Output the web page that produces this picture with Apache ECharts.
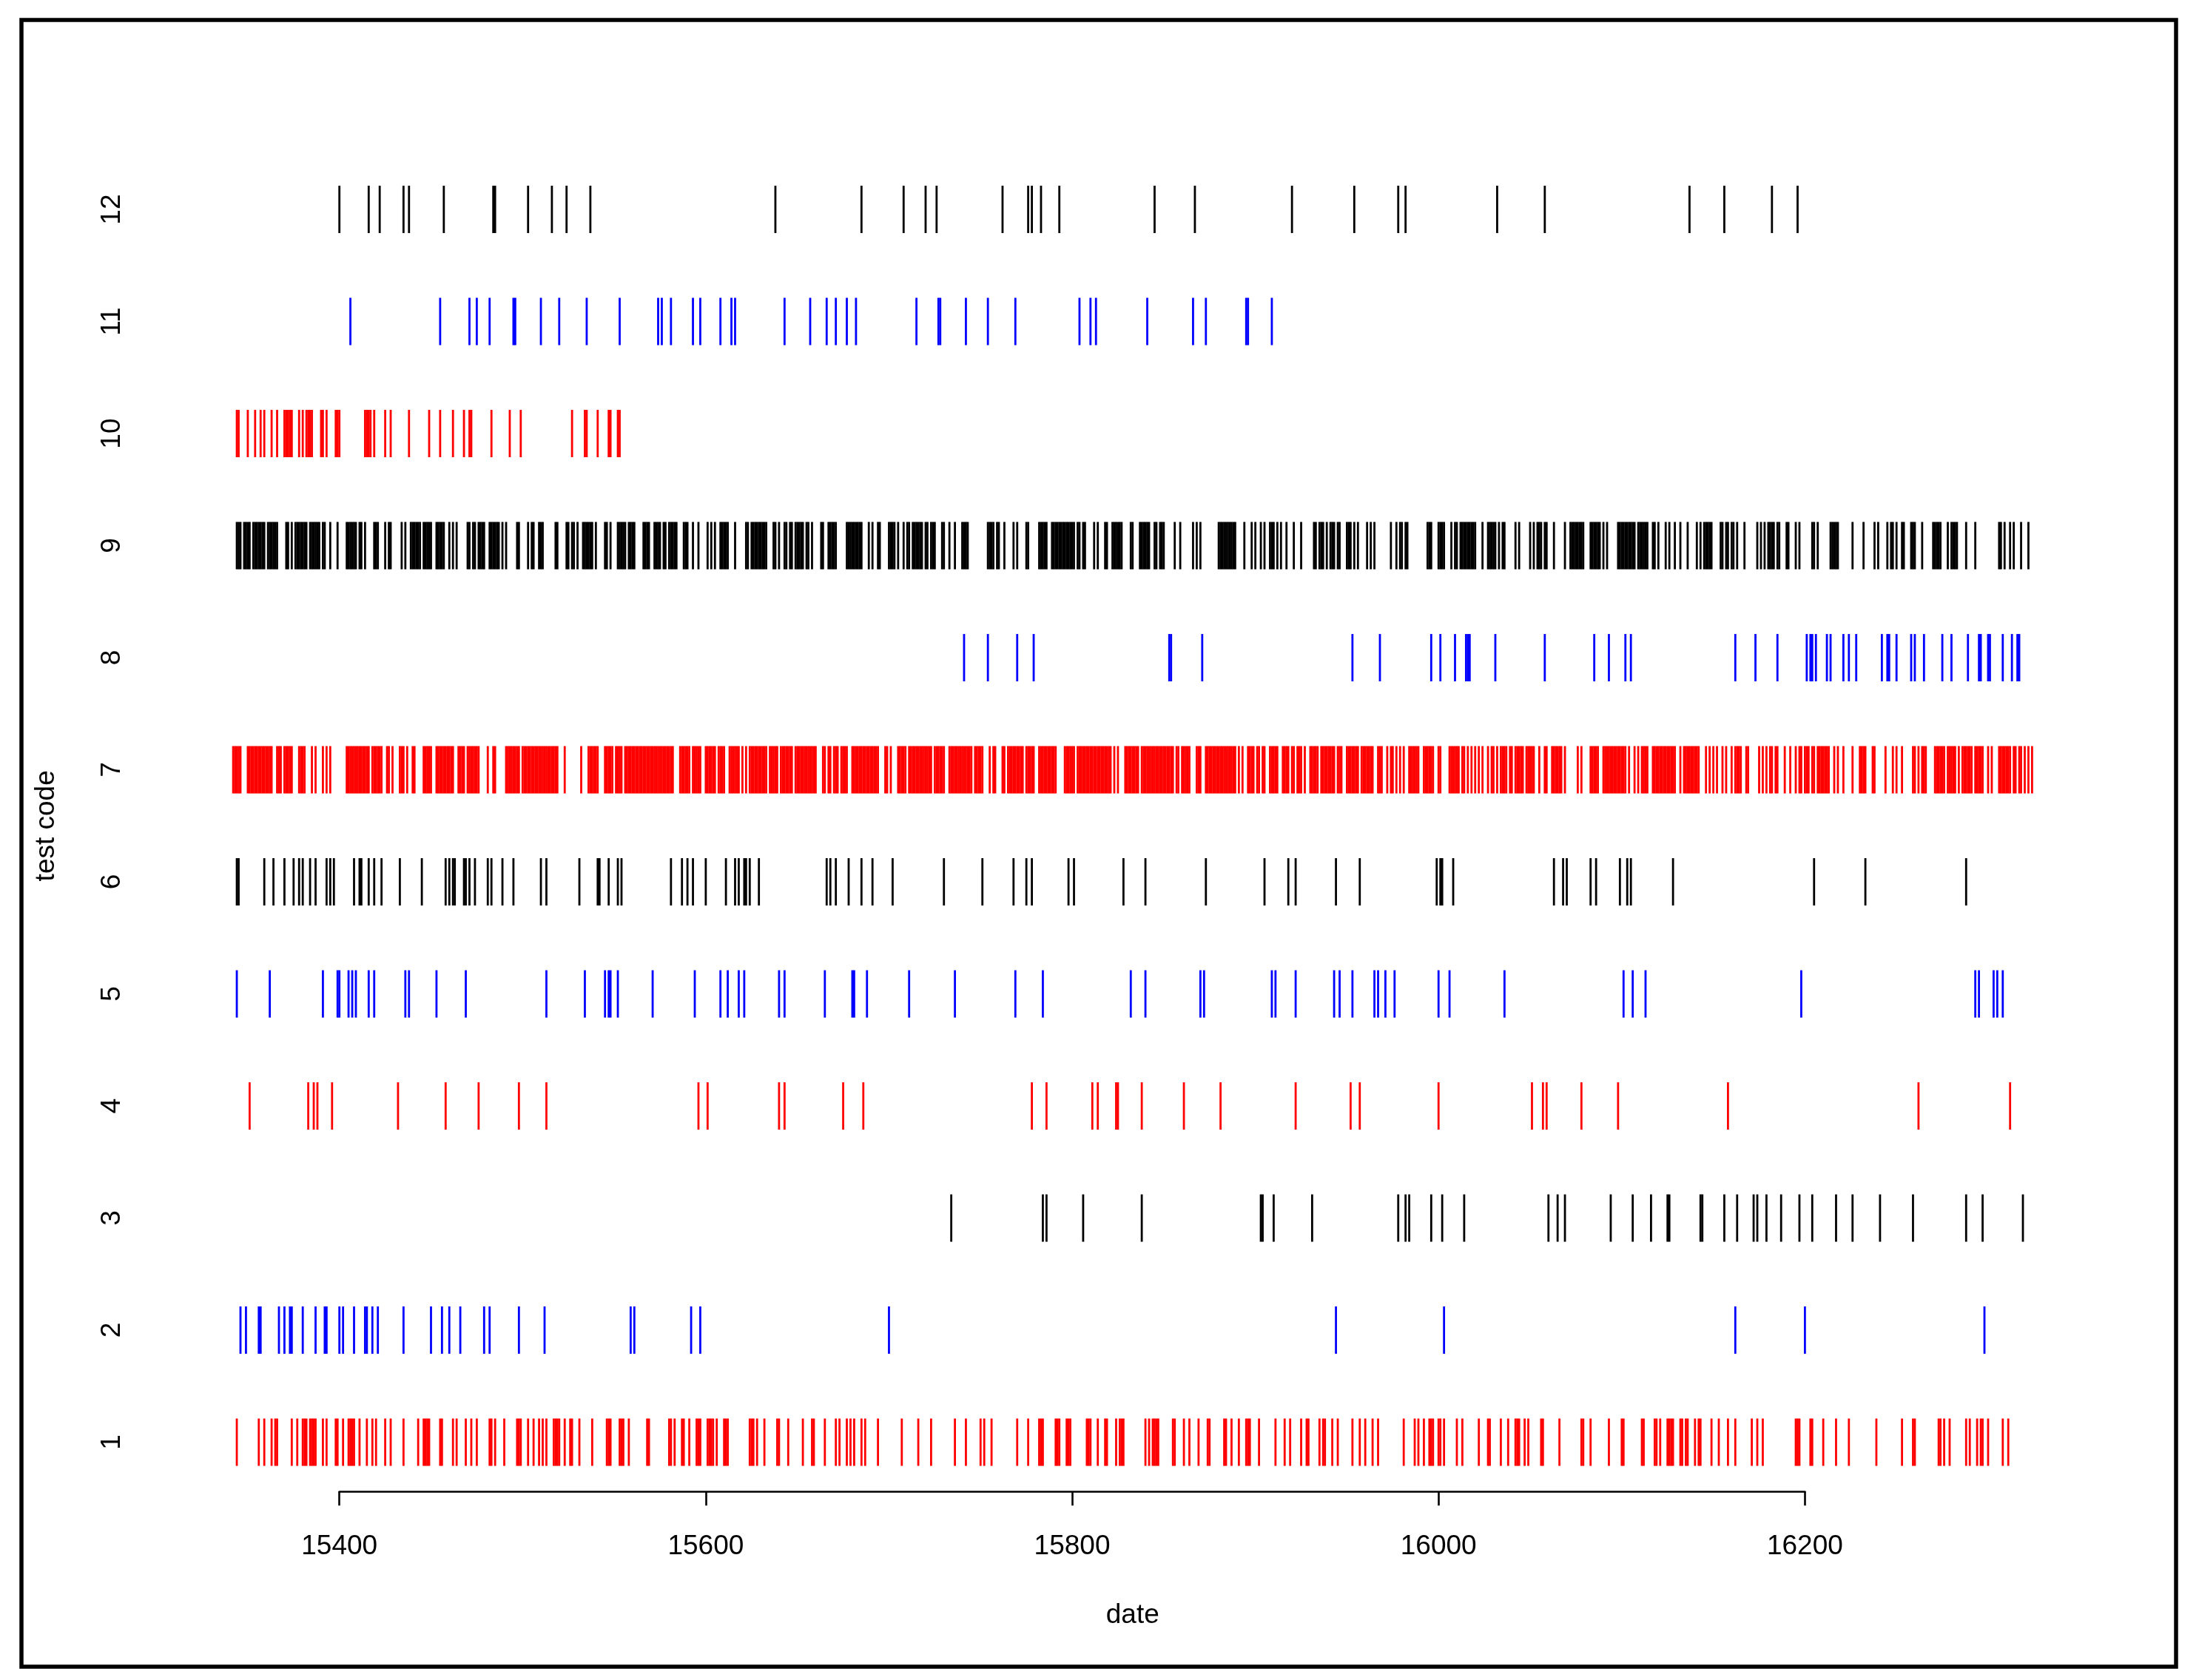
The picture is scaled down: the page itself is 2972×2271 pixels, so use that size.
<!DOCTYPE html>
<html>
<head>
<meta charset="utf-8">
<title>test code by date</title>
<script src="https://cdn.jsdelivr.net/npm/echarts@6.0.0/dist/echarts.min.js"></script>
<style>
  html, body { margin: 0; padding: 0; background: #ffffff; }
  #chart { width: 2972px; height: 2271px; }
</style>
</head>
<body>
<div id="chart"></div>
<script>
// fechas (días desde 1970) por código de test
const testCodes = [1, 2, 3, 4, 5, 6, 7, 8, 9, 10, 11, 12];
const xTicks = [15400, 15600, 15800, 16000, 16200];

const dates1 = [15344, 15356, 15359, 15363, 15365, 15366, 15374, 15377, 15380, 15381, 15382, 15384, 15385, 15386, 15387, 15391, 15393, 15398, 15399, 15402, 15405, 15406, 15407, 15408, 15411, 15415, 15418, 15420, 15425, 15428, 15435, 15443, 15446, 15447, 15448, 15449, 15455, 15456, 15462, 15464, 15469, 15472, 15475, 15482, 15483, 15485, 15490, 15497, 15498, 15499, 15503, 15506, 15509, 15511, 15513, 15517, 15518, 15519, 15520, 15523, 15526, 15527, 15531, 15538, 15546, 15547, 15548, 15553, 15554, 15555, 15558, 15568, 15569, 15580, 15581, 15583, 15587, 15588, 15591, 15595, 15596, 15597, 15601, 15602, 15603, 15604, 15606, 15610, 15611, 15612, 15624, 15625, 15626, 15628, 15632, 15639, 15640, 15645, 15653, 15658, 15659, 15665, 15671, 15673, 15677, 15679, 15681, 15685, 15687, 15694, 15707, 15716, 15723, 15736, 15742, 15750, 15752, 15756, 15770, 15776, 15782, 15783, 15784, 15791, 15792, 15793, 15797, 15798, 15799, 15808, 15809, 15810, 15814, 15818, 15819, 15824, 15826, 15827, 15828, 15840, 15842, 15844, 15845, 15846, 15847, 15855, 15856, 15861, 15864, 15869, 15874, 15875, 15883, 15884, 15887, 15891, 15895, 15896, 15897, 15902, 15911, 15916, 15919, 15925, 15928, 15929, 15935, 15937, 15938, 15942, 15945, 15953, 15957, 15960, 15964, 15967, 15981, 15987, 15989, 15992, 15995, 15996, 15997, 16000, 16001, 16003, 16010, 16013, 16022, 16027, 16028, 16034, 16038, 16042, 16043, 16044, 16047, 16049, 16056, 16057, 16066, 16078, 16079, 16083, 16093, 16100, 16101, 16111, 16112, 16118, 16119, 16121, 16125, 16126, 16127, 16128, 16132, 16133, 16135, 16136, 16140, 16142, 16143, 16149, 16153, 16158, 16162, 16171, 16174, 16177, 16195, 16196, 16197, 16203, 16204, 16210, 16217, 16224, 16239, 16253, 16259, 16260, 16273, 16274, 16276, 16279, 16288, 16290, 16294, 16296, 16297, 16300, 16308, 16311];

const dates2 = [15346, 15349, 15356, 15357, 15367, 15370, 15373, 15374, 15380, 15387, 15392, 15393, 15400, 15402, 15408, 15414, 15415, 15418, 15421, 15435, 15450, 15456, 15460, 15466, 15479, 15482, 15498, 15512, 15559, 15561, 15592, 15597, 15700, 15944, 16003, 16162, 16200, 16298];

const dates3 = [15734, 15784, 15786, 15806, 15838, 15903, 15904, 15910, 15931, 15978, 15982, 15984, 15996, 16002, 16014, 16060, 16065, 16069, 16094, 16106, 16116, 16125, 16126, 16143, 16144, 16156, 16163, 16172, 16174, 16179, 16187, 16197, 16204, 16217, 16226, 16241, 16259, 16288, 16297, 16319];

const dates4 = [15351, 15383, 15386, 15388, 15396, 15432, 15458, 15476, 15498, 15513, 15596, 15601, 15640, 15643, 15675, 15686, 15778, 15786, 15811, 15814, 15824, 15825, 15838, 15861, 15881, 15922, 15952, 15957, 16000, 16051, 16057, 16059, 16078, 16098, 16158, 16262, 16312];

const dates5 = [15344, 15362, 15391, 15399, 15400, 15405, 15407, 15409, 15416, 15419, 15436, 15438, 15453, 15469, 15513, 15534, 15545, 15547, 15548, 15552, 15571, 15594, 15608, 15612, 15618, 15621, 15640, 15643, 15665, 15680, 15681, 15688, 15711, 15736, 15769, 15784, 15832, 15840, 15870, 15872, 15909, 15911, 15922, 15943, 15946, 15953, 15965, 15967, 15971, 15976, 16000, 16006, 16036, 16101, 16106, 16113, 16198, 16293, 16295, 16303, 16305, 16308];

const dates6 = [15344, 15345, 15359, 15364, 15370, 15375, 15378, 15380, 15384, 15387, 15393, 15395, 15397, 15408, 15411, 15412, 15416, 15419, 15423, 15433, 15445, 15458, 15460, 15462, 15463, 15468, 15469, 15471, 15474, 15481, 15483, 15489, 15495, 15510, 15513, 15531, 15541, 15542, 15547, 15552, 15554, 15581, 15587, 15590, 15593, 15600, 15611, 15616, 15618, 15621, 15622, 15624, 15629, 15666, 15668, 15671, 15678, 15685, 15691, 15702, 15730, 15751, 15768, 15775, 15778, 15798, 15801, 15828, 15840, 15873, 15905, 15918, 15922, 15944, 15957, 15999, 16001, 16002, 16008, 16063, 16068, 16070, 16083, 16086, 16099, 16103, 16105, 16128, 16205, 16233, 16288];

const dates7 = [15342, 15343, 15344, 15345, 15346, 15350, 15351, 15352, 15353, 15354, 15355, 15356, 15357, 15358, 15359, 15360, 15361, 15362, 15363, 15366, 15367, 15368, 15370, 15371, 15372, 15373, 15374, 15378, 15379, 15380, 15381, 15385, 15387, 15391, 15393, 15395,
  15404, 15405, 15406, 15407, 15408, 15409, 15410, 15411, 15412, 15413, 15414, 15415, 15416, 15418, 15419, 15420, 15421, 15422, 15423, 15426, 15427, 15429, 15433, 15434, 15435, 15437, 15440, 15441, 15446, 15447, 15448, 15449, 15450,
  15453, 15454, 15455, 15456, 15457, 15458, 15459, 15460, 15461, 15462, 15465, 15466, 15467, 15468, 15470, 15471, 15472, 15473, 15474, 15475, 15476, 15481, 15484, 15485,
  15491, 15492, 15493, 15494, 15495, 15496, 15497, 15498, 15500, 15501, 15502, 15503, 15504, 15505, 15506, 15507, 15508, 15509, 15510, 15511, 15512, 15513, 15514, 15515, 15516, 15517, 15518, 15519, 15523, 15532,
  15536, 15537, 15538, 15539, 15540, 15541, 15545, 15546, 15547, 15548, 15549, 15551, 15552, 15553, 15554, 15556, 15557, 15558, 15559, 15560, 15561, 15562, 15563, 15564, 15565, 15566, 15567, 15568, 15569, 15570, 15571, 15572, 15573, 15574, 15575, 15576, 15577, 15578, 15579, 15580, 15581, 15582,
  15586, 15587, 15588, 15589, 15590, 15591, 15593, 15594, 15595, 15596, 15597, 15600, 15601, 15602, 15603, 15604, 15605, 15607, 15608, 15609, 15610, 15613, 15614, 15615, 15616, 15617, 15618, 15620, 15622, 15624, 15625, 15626, 15627, 15628, 15629, 15630, 15631, 15632, 15633, 15635, 15636, 15637, 15638, 15639, 15641, 15642, 15643, 15644, 15645, 15646, 15647, 15649, 15650, 15651, 15652, 15653, 15654, 15655, 15656, 15657, 15658, 15659, 15660, 15664, 15665, 15667, 15668, 15670, 15671, 15672, 15674, 15675, 15676, 15677,
  15680, 15681, 15682, 15683, 15684, 15685, 15686, 15687, 15688, 15689, 15690, 15691, 15692, 15693, 15694, 15698, 15699, 15701, 15705, 15706, 15707, 15708, 15709, 15711, 15712, 15713, 15714, 15715, 15716, 15717, 15718, 15719, 15720, 15721, 15722, 15723, 15725, 15726, 15727, 15728, 15729, 15730,
  15733, 15734, 15735, 15736, 15737, 15738, 15739, 15740, 15741, 15742, 15743, 15744, 15745, 15747, 15748, 15749, 15750, 15751, 15755, 15757, 15758, 15762, 15763, 15765, 15766, 15767, 15768, 15769, 15770, 15771, 15772, 15773, 15775, 15776, 15777, 15778, 15779,
  15782, 15783, 15784, 15785, 15786, 15787, 15788, 15789, 15790, 15791, 15796, 15797, 15798, 15799, 15800, 15801, 15803, 15804, 15805, 15806, 15807, 15808, 15809, 15810, 15811, 15812, 15813, 15814, 15815, 15816, 15817, 15818, 15819, 15820, 15821, 15823, 15825,
  15829, 15830, 15831, 15832, 15833, 15834, 15835, 15836, 15838, 15839, 15840, 15841, 15842, 15843, 15844, 15845, 15846, 15847, 15848, 15849, 15850, 15851, 15852, 15853, 15854, 15855, 15857, 15858, 15860, 15861, 15862, 15863, 15864, 15868, 15869, 15870, 15873, 15874,
  15875, 15876, 15877, 15878, 15879, 15880, 15881, 15882, 15883, 15884, 15885, 15886, 15887, 15888, 15889, 15891, 15893, 15896, 15897, 15898, 15899, 15901, 15902, 15904, 15905, 15908, 15909, 15910, 15911, 15912, 15915, 15916, 15917, 15918, 15920, 15921, 15923, 15924, 15925, 15927,
  15930, 15931, 15932, 15933, 15934, 15936, 15937, 15938, 15939, 15940, 15941, 15942, 15943, 15945, 15946, 15947, 15950, 15951, 15952, 15953, 15954, 15955, 15956, 15958, 15959, 15960, 15961, 15962, 15963, 15964, 15967, 15968, 15969, 15972, 15974, 15975, 15977, 15979, 15981,
  15984, 15985, 15986, 15987, 15988, 15989, 15992, 15993, 15994, 15995, 15996, 15997, 16000, 16001, 16006, 16007, 16008, 16009, 16010, 16011, 16013, 16014, 16016, 16018, 16020, 16022, 16024, 16027, 16029, 16030, 16032, 16034, 16035, 16036, 16037, 16039, 16040, 16042, 16043, 16044, 16045, 16046,
  16048, 16049, 16050, 16051, 16052, 16055, 16058, 16059, 16062, 16063, 16064, 16065, 16066, 16067, 16069, 16076, 16078, 16083, 16084, 16085, 16086, 16087, 16090, 16091, 16092, 16093, 16094, 16095, 16096, 16097, 16098, 16099, 16100, 16101, 16102, 16104, 16107, 16109,
  16111, 16112, 16113, 16114, 16117, 16118, 16119, 16120, 16121, 16122, 16123, 16124, 16125, 16126, 16127, 16128, 16129, 16132, 16134, 16135, 16136, 16137, 16138, 16139, 16140, 16141, 16142, 16146, 16148, 16150, 16152, 16155, 16157,
  16160, 16162, 16163, 16164, 16165, 16168, 16169, 16175, 16177, 16179, 16181, 16182, 16184, 16185, 16189, 16192, 16195, 16197, 16198, 16200, 16201, 16202, 16204, 16205, 16207, 16208, 16209, 16210, 16211, 16212, 16213, 16216, 16218, 16221, 16226,
  16230, 16231, 16232, 16233, 16237, 16238, 16244, 16248, 16250, 16253, 16259, 16260, 16262, 16264, 16265, 16266, 16271, 16272, 16273, 16274, 16275, 16276, 16278, 16279, 16280, 16281, 16282, 16284,
  16286, 16287, 16288, 16289, 16290, 16291, 16293, 16294, 16295, 16296, 16297, 16300, 16302, 16306, 16307, 16308, 16309, 16310, 16311, 16312, 16314, 16315, 16317, 16318, 16320, 16322, 16324];

const dates8 = [15741, 15754, 15770, 15779, 15853, 15854, 15871, 15953, 15968, 15996, 16001, 16009, 16015, 16016, 16017, 16031, 16058, 16085, 16093, 16102, 16105, 16162, 16173, 16185, 16201, 16203, 16204, 16206, 16212, 16214, 16221, 16224, 16228, 16242, 16245, 16246, 16250, 16258, 16260, 16265, 16275, 16280, 16289, 16295, 16296, 16300, 16301, 16308, 16313, 16316, 16317];

const dates9 = [15344, 15345, 15346, 15348, 15349, 15350, 15351, 15353, 15354, 15355, 15356, 15357, 15358, 15359, 15361, 15362, 15363, 15364, 15365, 15366,
  15371, 15372, 15374, 15376, 15377, 15378, 15379, 15380, 15381, 15382, 15384, 15385, 15386, 15387, 15388, 15389, 15391, 15392, 15395, 15399,
  15404, 15405, 15406, 15407, 15408, 15409, 15411, 15412, 15414, 15419, 15420, 15421, 15425, 15427, 15428, 15434, 15436,
  15439, 15440, 15441, 15442, 15443, 15444, 15446, 15447, 15448, 15449, 15450, 15453, 15454, 15455, 15456, 15457, 15460, 15462, 15464,
  15470, 15471, 15473, 15474, 15476, 15477, 15478, 15479, 15482, 15483, 15484, 15485, 15486, 15487, 15489, 15491, 15497, 15498,
  15503, 15505, 15506, 15509, 15510, 15511, 15518, 15519, 15524, 15525, 15527, 15528, 15530, 15533, 15534, 15535, 15536, 15537, 15538, 15540,
  15545, 15546, 15548, 15552, 15553, 15554, 15555, 15556, 15558, 15559, 15560, 15561, 15566, 15567, 15568, 15569,
  15572, 15573, 15574, 15575, 15577, 15578, 15580, 15581, 15582, 15583, 15584, 15588, 15589, 15590, 15593, 15596,
  15601, 15603, 15605, 15608, 15609, 15610, 15611, 15612, 15616, 15622, 15623, 15625, 15626, 15627, 15628, 15629, 15630, 15631, 15632, 15633,
  15637, 15638, 15640, 15643, 15644, 15646, 15647, 15649, 15650, 15651, 15652, 15653, 15655, 15656, 15658, 15663, 15664, 15667, 15668, 15669, 15670, 15671,
  15677, 15678, 15679, 15680, 15681, 15682, 15683, 15684, 15685, 15689, 15691, 15694, 15695, 15700, 15701, 15702, 15703, 15705, 15708, 15710, 15711,
  15713, 15714, 15715, 15716, 15717, 15718, 15720, 15721, 15723, 15724, 15725, 15729, 15730, 15733, 15736, 15740, 15741, 15742, 15743,
  15754, 15755, 15756, 15757, 15759, 15760, 15763, 15768, 15770, 15775, 15776, 15782, 15783, 15784, 15785, 15786,
  15789, 15790, 15791, 15792, 15793, 15794, 15795, 15796, 15797, 15798, 15799, 15800, 15801, 15803, 15804, 15806, 15807, 15812, 15814, 15818, 15819,
  15822, 15823, 15824, 15825, 15826, 15827, 15832, 15833, 15837, 15838, 15839, 15840, 15841, 15842, 15845, 15846, 15848, 15849, 15850, 15856, 15859,
  15866, 15868, 15870, 15880, 15881, 15882, 15883, 15884, 15885, 15886, 15887, 15888, 15889, 15894, 15898, 15900, 15903, 15905, 15908, 15909, 15910, 15912,
  15914, 15917, 15921, 15925, 15932, 15933, 15935, 15936, 15937, 15939, 15941, 15942, 15943, 15945, 15946, 15950, 15951, 15952, 15954, 15956, 15961, 15963, 15965,
  15974, 15977, 15979, 15980, 15982, 15983, 15994, 15995, 15996,
  16000, 16001, 16002, 16003, 16007, 16009, 16010, 16012, 16013, 16014, 16015, 16016, 16017, 16018, 16019, 16020, 16024, 16027, 16028, 16029, 16030, 16031, 16033, 16035, 16036,
  16042, 16044, 16050, 16052, 16054, 16055, 16056, 16058, 16059, 16063, 16069, 16072, 16073, 16074, 16075, 16076, 16077, 16078, 16079,
  16083, 16084, 16085, 16086, 16087, 16088, 16090, 16092, 16098, 16099, 16100, 16101, 16102, 16103, 16104, 16105, 16106, 16107, 16109,
  16110, 16111, 16112, 16113, 16114, 16117, 16118, 16120, 16124, 16126, 16129, 16132, 16136, 16141, 16143, 16145, 16146, 16147, 16148, 16149,
  16154, 16155, 16157, 16158, 16160, 16161, 16163, 16167, 16174, 16176, 16178, 16180, 16181, 16182, 16183, 16185, 16186, 16190, 16191, 16195, 16197,
  16204, 16205, 16207, 16214, 16215, 16216, 16217, 16218, 16226, 16232, 16238, 16240, 16245, 16247, 16248, 16250, 16253, 16254, 16258, 16259, 16260, 16264,
  16270, 16271, 16272, 16273, 16274, 16278, 16280, 16281, 16282, 16283, 16288, 16293, 16306, 16307, 16309, 16312, 16314, 16318, 16322];

const dates10 = [15344, 15345, 15350, 15354, 15357, 15359, 15363, 15366, 15370, 15371, 15372, 15373, 15374, 15378, 15380, 15382, 15383, 15384, 15385, 15390, 15391, 15393, 15398, 15399, 15400, 15414, 15415, 15416, 15417, 15419, 15425, 15428, 15438, 15449, 15455, 15462, 15468, 15471, 15472, 15483, 15493, 15499, 15527, 15534, 15535, 15541, 15547, 15548, 15552, 15553];

const dates11 = [15406, 15455, 15471, 15475, 15482, 15495, 15496, 15510, 15520, 15535, 15553, 15574, 15576, 15581, 15593, 15597, 15608, 15614, 15616, 15643, 15657, 15666, 15671, 15677, 15682, 15715, 15727, 15728, 15742, 15754, 15769, 15804, 15810, 15813, 15841, 15866, 15873, 15895, 15896, 15909];

const dates12 = [15400, 15416, 15422, 15435, 15438, 15457, 15484, 15485, 15503, 15516, 15524, 15537, 15638, 15685, 15708, 15720, 15726, 15762, 15776, 15778, 15783, 15793, 15845, 15867, 15920, 15954, 15978, 15982, 16032, 16058, 16137, 16156, 16182, 16196];

const datesByCode = [dates1, dates2, dates3, dates4, dates5, dates6, dates7, dates8, dates9, dates10, dates11, dates12];

// colores tipo R: rojo, azul, negro repetidos
const palette = ['#ff0000', '#0000ff', '#000000'];
const FONT = "'Liberation Sans', Arial, Helvetica, sans-serif";

const chart = echarts.init(document.getElementById('chart'), null, { renderer: 'canvas' });

const series = testCodes.map((code, i) => ({
    type: 'scatter',
    name: String(code),
    xAxisIndex: 0,
    yAxisIndex: 0,
    symbol: 'rect',
    symbolSize: [2.8, 64],
    itemStyle: { color: palette[i % 3], opacity: 1 },
    emphasis: { disabled: true },
    data: datesByCode[i].map(d => [d, code])
}));

chart.setOption({
    animation: false,
    backgroundColor: '#ffffff',
    graphic: [{
        type: 'rect',
        shape: { x: 29, y: 27, width: 2912, height: 2226 },
        style: { fill: 'none', stroke: '#000000', lineWidth: 5.5 },
        silent: true
    }],
    grid: [
        { left: 217.8, right: 128.3, top: 216.4, bottom: 254.8 },
        { left: 458.7, right: 532.6, bottom: 254.8, height: 10 }
    ],
    xAxis: [
        {
            type: 'value',
            gridIndex: 0,
            min: 15302.7,
            max: 16363.3,
            name: 'date',
            nameLocation: 'middle',
            nameGap: 149,
            nameTextStyle: { fontFamily: FONT, fontSize: 37, color: '#000000' },
            axisLine: { show: false },
            axisTick: { show: false },
            axisLabel: { show: false },
            splitLine: { show: false }
        },
        {
            type: 'value',
            gridIndex: 1,
            min: xTicks[0],
            max: xTicks[xTicks.length - 1],
            interval: 200,
            axisLine: { show: true, lineStyle: { color: '#000000', width: 2.6 } },
            axisTick: { show: true, length: 19, lineStyle: { color: '#000000', width: 2.6 } },
            axisLabel: {
                customValues: xTicks,
                formatter: v => String(v),
                fontFamily: FONT, fontSize: 37, color: '#000000', margin: 56
            },
            splitLine: { show: false }
        }
    ],
    yAxis: [
        {
            type: 'value',
            gridIndex: 0,
            min: 0.56,
            max: 12.44,
            name: 'test code',
            nameLocation: 'middle',
            nameRotate: 90,
            nameGap: 137,
            nameTextStyle: { fontFamily: FONT, fontSize: 37, color: '#000000' },
            axisLine: { show: false },
            axisTick: { show: false },
            axisLabel: {
                customValues: testCodes,
                rotate: 90,
                fontFamily: FONT, fontSize: 37, color: '#000000', margin: 48
            },
            splitLine: { show: false }
        },
        { type: 'value', gridIndex: 1, show: false }
    ],
    series: series
});

window.addEventListener('resize', () => chart.resize());
</script>
</body>
</html>
